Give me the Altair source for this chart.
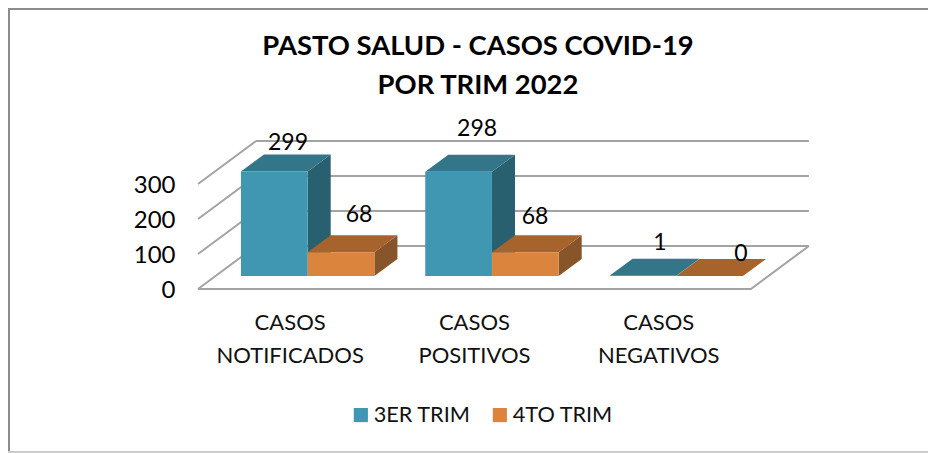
import altair as alt
import pandas as pd

categories = ["CASOS\nNOTIFICADOS", "CASOS\nPOSITIVOS", "CASOS\nNEGATIVOS"]
series = ["3ER TRIM", "4TO TRIM"]
values = {"3ER TRIM": [299, 298, 1], "4TO TRIM": [68, 68, 0]}
y_ticks = [0, 100, 200, 300]
label_dx = {"3ER TRIM": [0.012, 0.038, 0.03], "4TO TRIM": [0.035, -0.01, 0.108]}
label_rise = {"3ER TRIM": [58, 97, 70], "4TO TRIM": [83, 76, 40]}

front = {"3ER TRIM": "#4097B1", "4TO TRIM": "#DB843D"}
top = {"3ER TRIM": "#337589", "4TO TRIM": "#A6632C"}
side = {"3ER TRIM": "#29606F", "4TO TRIM": "#88552A"}
GRID = "#A3A3A3"
FONT = "Lato"

W, H = 920, 445
X_DOMAIN = [-1.031, 3.961]
Y_DOMAIN = [-468.6, 802.9]
FLOOR_DX, FLOOR_DY = 0.3147, 122.9
BAR_DX, BAR_DY = 0.125, 48.6
BAR_W, BAR_X0, BAR_BASE = 0.362, 0.233, 37

xs = alt.Scale(domain=X_DOMAIN, nice=False, zero=False)
ys = alt.Scale(domain=Y_DOMAIN, nice=False, zero=False)
y_axis = alt.Axis(values=y_ticks, domain=False, ticks=False, grid=False, title=None, offset=-167,
                  labelFont=FONT, labelFontSize=24, labelColor="#000000", labelPadding=0, labelOffset=1.5,
                  zindex=1)
X = lambda f: alt.X(f, type="quantitative", scale=xs, axis=None)
Y = lambda f: alt.Y(f, type="quantitative", scale=ys, axis=y_axis)

front_rows, top_rows, side_rows, label_rows = [], [], [], []
for s_i, s in enumerate(series):
    for c_i, v in enumerate(values[s]):
        x0 = c_i + BAR_X0 + s_i * BAR_W
        key = f"{s}-{c_i}"
        upper = BAR_BASE + v
        front_rows.append(dict(s=s, x=x0, x2=x0 + BAR_W, y=BAR_BASE, y2=upper))
        for d in (0, 1):
            top_rows.append(dict(s=s, k=key, y=upper + d * BAR_DY,
                                 xl=x0 + d * BAR_DX, xr=x0 + BAR_W + d * BAR_DX))
            side_rows.append(dict(s=s, k=key, x=x0 + BAR_W + d * BAR_DX,
                                  y=BAR_BASE + d * BAR_DY, y2=upper + d * BAR_DY))
        label_rows.append(dict(t=str(v), x=x0 + BAR_W / 2 + BAR_DX / 2 + label_dx[s][c_i],
                               y=upper + BAR_DY / 2 + label_rise[s][c_i]))

back = pd.DataFrame([dict(x=FLOOR_DX, x2=3 + FLOOR_DX, y=t + FLOOR_DY) for t in y_ticks])
wall = pd.DataFrame([dict(k=t, x=d * FLOOR_DX, y=t + d * FLOOR_DY) for t in y_ticks for d in (0, 1)])
floor = pd.DataFrame([dict(x=0, y=0, o=0), dict(x=3, y=0, o=1),
                      dict(x=3 + FLOOR_DX, y=FLOOR_DY, o=2)])
fronts, tops, sides = map(pd.DataFrame, (front_rows, top_rows, side_rows))

frame_left = alt.Chart(pd.DataFrame({"a": [0]})).mark_rule(color="#8C8C8C", strokeWidth=2).encode(
    x=alt.value(1), y=alt.value(0), y2=alt.value(H))
frame_top = alt.Chart(pd.DataFrame({"a": [0]})).mark_rule(color="#8C8C8C", strokeWidth=2).encode(
    y=alt.value(1), x=alt.value(0), x2=alt.value(W))
frame_bottom = alt.Chart(pd.DataFrame({"a": [0]})).mark_rule(color="#CCCCCC", strokeWidth=2).encode(
    y=alt.value(H - 1), x=alt.value(0), x2=alt.value(W))

grid_layer = alt.Chart(back).mark_rule(color=GRID, strokeWidth=2).encode(x=X("x"), x2="x2", y=Y("y"))
wall_layer = alt.Chart(wall).mark_line(color=GRID, strokeWidth=2).encode(x=X("x"), y=Y("y"), detail="k:N")
floor_layer = alt.Chart(floor).mark_line(color=GRID, strokeWidth=2).encode(x=X("x"), y=Y("y"), order="o:Q")

layers = [frame_left, frame_top, frame_bottom, grid_layer, wall_layer, floor_layer]
color = alt.Color("s:N", scale=alt.Scale(domain=series, range=[front[s] for s in series]),
                  legend=alt.Legend(
                      orient="none", legendX=342, legendY=396, direction="horizontal", title=None,
                      symbolType="square", symbolSize=200, symbolStrokeWidth=0, symbolOpacity=1,
                      labelFont=FONT, labelFontSize=21.7, labelColor="#111111", columnPadding=18,
                      labelOffset=2))
for s in series:
    layers.append(alt.Chart(sides[sides.s == s]).mark_area(color=side[s], orient="vertical").encode(
        x=X("x"), y=Y("y"), y2="y2", detail="k:N"))
    layers.append(alt.Chart(tops[tops.s == s]).mark_area(color=top[s], orient="horizontal").encode(
        y=Y("y"), x=X("xl"), x2="xr", detail="k:N"))
    layers.append(alt.Chart(fronts[fronts.s == s]).mark_rect().encode(
        x=X("x"), x2="x2", y=Y("y"), y2="y2", color=color))

labels = alt.Chart(pd.DataFrame(label_rows)).mark_text(
    font=FONT, fontSize=23, color="#000000").encode(x=X("x"), y=Y("y"), text="t:N")
cats = alt.Chart(pd.DataFrame({"x": [i + 0.5 for i in range(3)], "y": [-97] * 3, "t": categories})).mark_text(
    font=FONT, fontSize=22, color="#111111", lineBreak="\n", lineHeight=33, baseline="middle"
).encode(x=X("x"), y=Y("y"), text="t:N")
layers += [labels, cats]

chart = alt.layer(*layers).properties(
    width=W, height=H, padding=0, autosize=alt.AutoSizeParams(type="none"),
    title=alt.TitleParams(
        text=["PASTO SALUD - CASOS COVID-19", "POR TRIM 2022"], font=FONT, fontSize=27.4, fontWeight="bold",
        color="#000000", anchor="middle", frame="group", lineHeight=39, dx=10, offset=-120, baseline="bottom"),
    background="#FFFFFF",
).resolve_scale(color="shared").configure_view(stroke=None)

chart.save("out.html", embed_options={"renderer": "svg", "actions": False})
